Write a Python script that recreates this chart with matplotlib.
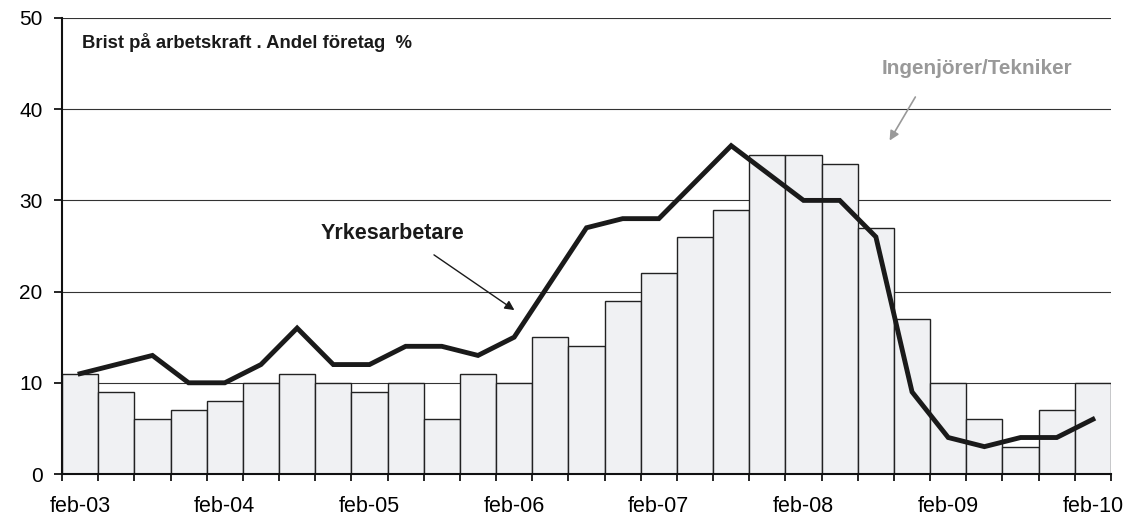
import numpy as np
import matplotlib.pyplot as plt

plt.rcParams['font.family'] = ['Liberation Sans', 'DejaVu Sans']

# kvartal feb-03 .. feb-10
ticklabels = ['feb-03', 'feb-04', 'feb-05', 'feb-06', 'feb-07', 'feb-08', 'feb-09', 'feb-10']
ingenjorer = [11, 9, 6, 7, 8, 10, 11, 10, 9, 10, 6, 11, 10, 15, 14, 19, 22, 26, 29,
              35, 35, 34, 27, 17, 10, 6, 3, 7, 10]
yrkesarbetare = [11, 12, 13, 10, 10, 12, 16, 12, 12, 14, 14, 13, 15, 21, 27, 28, 28, 32,
                 36, 33, 30, 30, 26, 9, 4, 3, 4, 4, 6]

x = np.arange(len(ingenjorer))

fig = plt.figure(figsize=(11.42, 5.16), dpi=100)
ax = fig.add_axes([62/1142, 1-474/516, (1111-62)/1142, (474-18)/516])

ax.bar(x, ingenjorer, width=1.0, color='#f0f1f3', edgecolor='#222222', linewidth=1.0, zorder=2)
ax.plot(x, yrkesarbetare, color='#1a1a1a', linewidth=3.5, solid_joinstyle='miter', zorder=3)

ax.set_xlim(-0.5, len(x) - 0.5)
ax.set_ylim(0, 50)
ax.set_yticks(range(0, 51, 10))
ax.yaxis.grid(True, color='#333333', linewidth=0.8)
ax.set_axisbelow(True)

ax.set_xticks(x[::4])
ax.set_xticklabels(ticklabels)
ax.set_xticks(np.arange(-0.5, len(x), 1), minor=True)
ax.tick_params(axis='x', which='major', length=0, pad=16, labelsize=15.5)
ax.tick_params(axis='x', which='minor', length=5, width=1.2, direction='out')
ax.tick_params(axis='y', length=6, width=1.2, labelsize=15, pad=8)

for s in ['top', 'right']:
    ax.spines[s].set_visible(False)
for s in ['left', 'bottom']:
    ax.spines[s].set_linewidth(1.5)
    ax.spines[s].set_color('#111111')

ax.text(0.05, 47.3, 'Brist på arbetskraft . Andel företag  %', fontsize=13.3,
        fontweight='bold', va='center', ha='left', color='#1a1a1a')

ax.text(8.64, 26.4, 'Yrkesarbetare', fontsize=15.5, fontweight='bold',
        ha='center', va='center', color='#1a1a1a')
ax.annotate('', xy=(12.07, 17.8), xytext=(9.72, 24.2),
            arrowprops=dict(arrowstyle='-|>', color='#1a1a1a', lw=1.0, mutation_scale=14))

ax.text(24.8, 44.5, 'Ingenjörer/Tekniker', fontsize=14.9, fontweight='bold',
        ha='center', va='center', color='#999999')
ax.annotate('', xy=(22.34, 36.3), xytext=(23.13, 41.6),
            arrowprops=dict(arrowstyle='-|>', color='#999999', lw=1.2, mutation_scale=14))

fig.savefig('out.png', dpi=100)
